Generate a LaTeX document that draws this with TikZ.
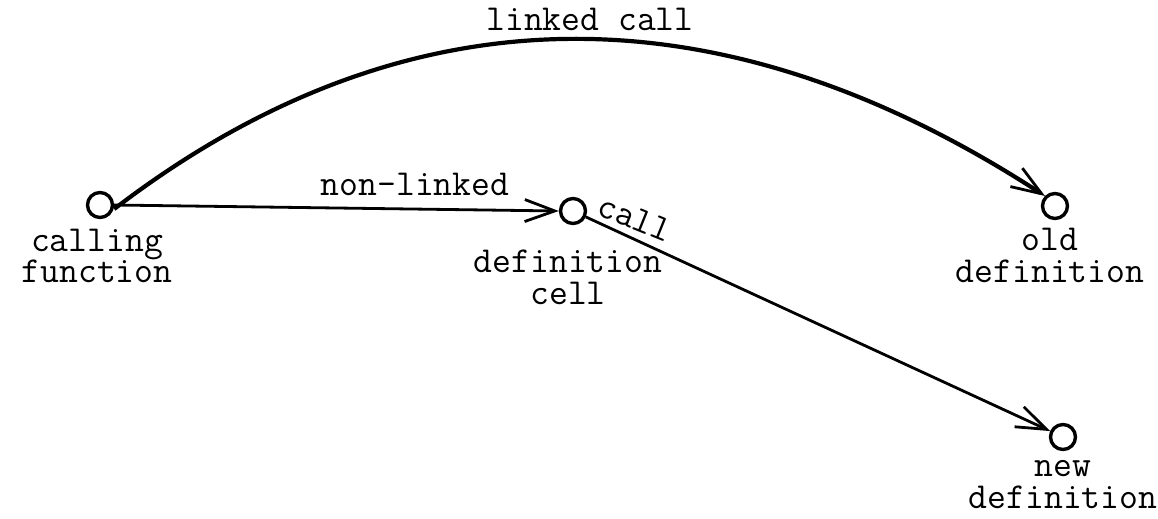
\documentclass[tikz,border=0pt]{standalone}
\usetikzlibrary{arrows.meta}
\begin{document}
\begin{tikzpicture}[x=0.5pt,y=-0.5pt,
  pt/.style={circle,draw,line width=1.7pt,minimum size=12.5pt,inner sep=0pt},
  lbl/.style={font=\ttfamily\fontsize{18.3}{16}\selectfont,align=center,inner sep=0pt,anchor=base},
  conn/.style={line width=1.4pt,-{Straight Barb[length=15pt,width=11pt,line width=1.4pt]}}]
\useasboundingbox (0,0) rectangle (1158,519);
\node[pt] (cf) at (100,205) {};
\node[pt] (dc) at (573,211) {};
\node[pt] (od) at (1055,206) {};
\node[pt] (nd) at (1063,437) {};
\node[lbl] (cfl) at (97,283) {calling\\function};
\node[lbl] (dcl) at (568,304) {definition\\cell};
\node[lbl] (odl) at (1050,282) {old\\definition};
\node[lbl] (ndl) at (1063,508) {new\\definition};
\draw[conn] (cf.east) -- (dc.west);
\node[lbl] (nl) at (415,196) {non-linked};
\draw[conn] (dc) -- (nd);
\node[lbl,anchor=center,rotate=-22] (cl) at (635,218) {call};
\draw[conn,line width=2.1pt] ([yshift=-2pt]cf.east) .. controls (400,-10) and (713,-20) .. (od.north west);
\node[lbl] (lc) at (590,31) {linked call};
\end{tikzpicture}
\end{document}
